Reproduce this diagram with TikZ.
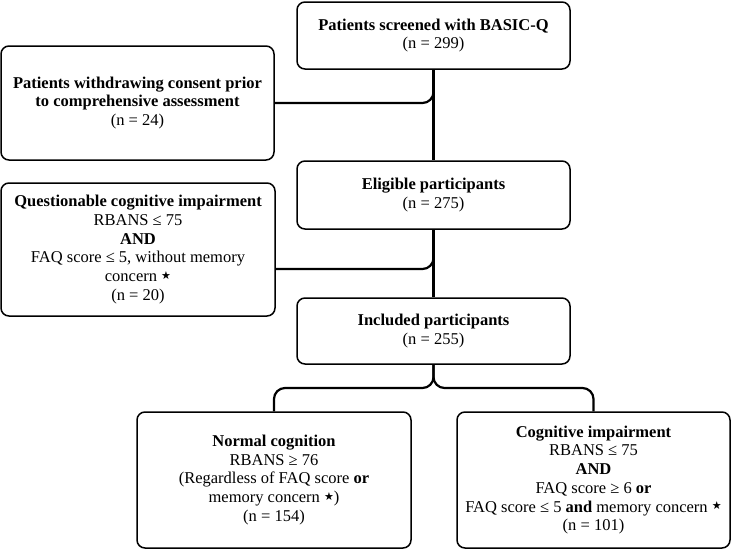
\documentclass[tikz,border=0pt]{standalone}
\usepackage{fontspec}
\setmainfont{Liberation Serif}
\newfontfamily\djv{DejaVu Sans}
\newcommand{\mystar}{\raisebox{0.3ex}{\djv\fontsize{11}{11}\selectfont ★}}
\begin{document}
\begin{tikzpicture}[x=1pt,y=-1pt,
  box/.style={draw, line width=1.5pt, rounded corners=8pt, align=center, inner sep=0pt,
    minimum width=273pt, font=\fontsize{16.5}{18.7}\selectfont},
  conn/.style={line width=2.2pt, rounded corners=11pt}]
\useasboundingbox (0,0) rectangle (732,550);
\node[box, minimum height=67pt] (top) at (433.5,35.5) {\textbf{Patients screened with BASIC-Q}\\(n = 299)};
\node[box, minimum height=114pt] (withdraw) at (137.5,103) {\textbf{Patients withdrawing consent prior}\\\textbf{to comprehensive assessment}\\(n = 24)};
\node[box, minimum height=68pt] (eligible) at (433.5,195) {\textbf{Eligible participants}\\(n = 275)};
\node[box, minimum height=133pt, minimum width=274pt] (quest) at (138,249.5) {\textbf{Questionable cognitive impairment}\\RBANS ≤ 75\\\textbf{AND}\\FAQ score ≤ 5, without memory\\concern \mystar\\(n = 20)};
\node[box, minimum height=66pt] (included) at (433.5,331) {\textbf{Included participants}\\(n = 255)};
\node[box, minimum height=136pt, minimum width=274pt] (normal) at (274,480) {\textbf{Normal cognition}\\RBANS ≥ 76\\(Regardless of FAQ score \textbf{or}\\memory concern \mystar)\\(n = 154)};
\node[box, minimum height=136pt] (cog) at (593.5,480) {\textbf{Cognitive impairment}\\RBANS ≤ 75\\\textbf{AND}\\FAQ score ≥ 6 \textbf{or}\\FAQ score ≤ 5 \textbf{and} memory concern \mystar\\(n = 101)};
\coordinate (qbr) at (275,269);
\coordinate (j) at (433.5,388);
\draw[conn] (top.south) -- (eligible.north);
\draw[conn] (top.south) |- (withdraw.east);
\draw[conn] (eligible.south) -- (included.north);
\draw[conn] (eligible.south) |- (qbr);
\draw[conn] (included.south) -- (j) -| (normal.north);
\draw[conn] (included.south) -- (j) -| (cog.north);
\end{tikzpicture}
\end{document}
